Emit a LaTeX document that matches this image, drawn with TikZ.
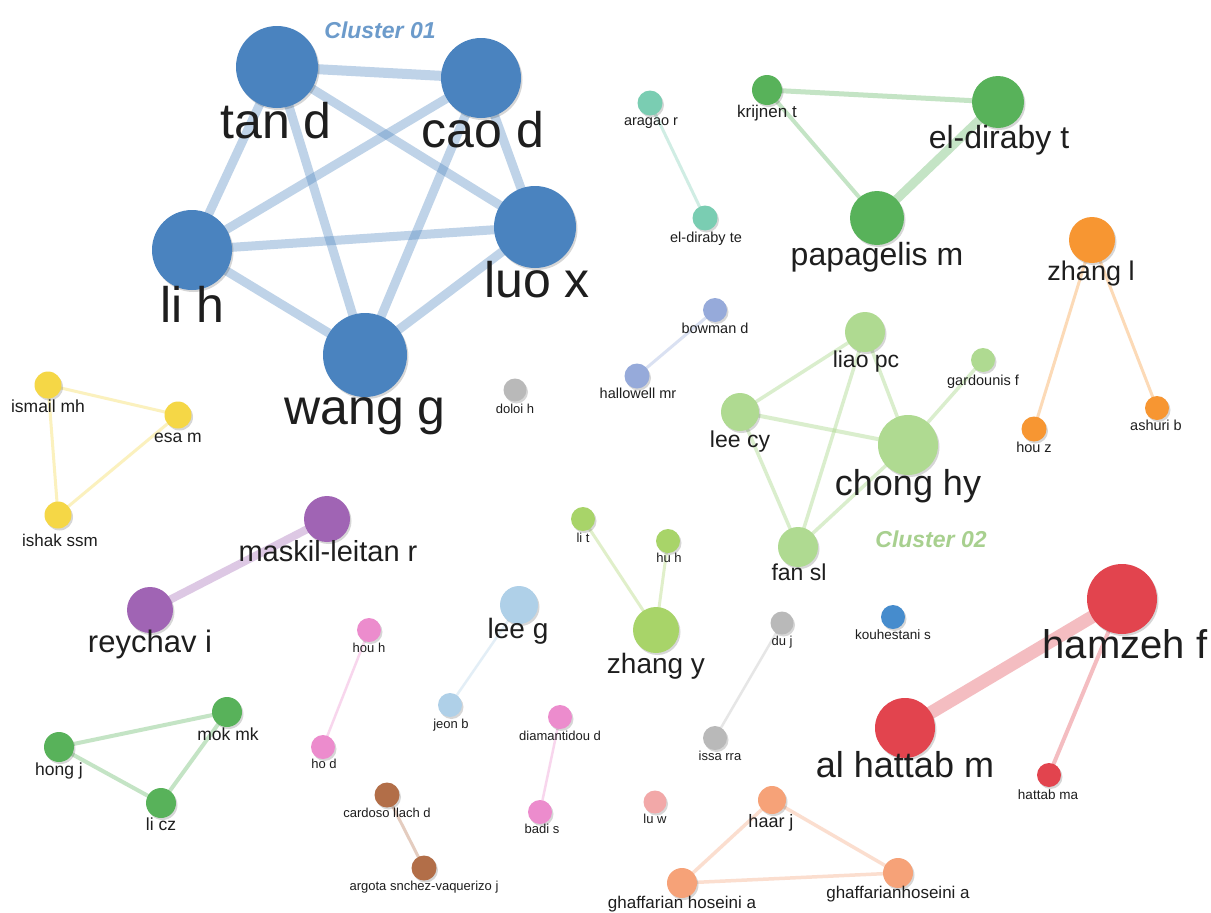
\documentclass[tikz,border=0pt]{standalone}
\usepackage{fontspec}
\setmainfont{Liberation Sans}
\usetikzlibrary{shadows}
\newcommand\fsz[1]{\fontsize{#1}{#1}\selectfont}
\definecolor{txt}{RGB}{30,30,30}
\definecolor{blueN}{RGB}{74,131,191}
\definecolor{greenN}{RGB}{88,178,90}
\definecolor{tealN}{RGB}{122,205,178}
\definecolor{orangeN}{RGB}{247,150,50}
\definecolor{lavN}{RGB}{150,170,218}
\definecolor{lgreenN}{RGB}{175,218,145}
\definecolor{ygreenN}{RGB}{168,212,105}
\definecolor{grayN}{RGB}{185,185,185}
\definecolor{yellowN}{RGB}{245,215,70}
\definecolor{purpleN}{RGB}{160,100,180}
\definecolor{lblueN}{RGB}{175,208,232}
\definecolor{pinkN}{RGB}{236,140,205}
\definecolor{brownN}{RGB}{178,110,72}
\definecolor{redN}{RGB}{226,68,78}
\definecolor{roseN}{RGB}{242,168,168}
\definecolor{salmN}{RGB}{246,162,120}
\definecolor{kblueN}{RGB}{70,140,205}
\definecolor{cl1}{RGB}{108,155,203}
\definecolor{cl2}{RGB}{168,208,143}
\pgfdeclarelayer{bg}
\pgfdeclarelayer{edges}
\pgfsetlayers{bg,edges,main}
\tikzset{
  nd/.style n args={2}{circle, inner sep=0pt, fill=#1, minimum size=#2,
    drop shadow={shadow xshift=1.5pt, shadow yshift=-2pt, opacity=0.16, fill=black}},
  lbl/.style={anchor=base, inner sep=0pt, text=txt},
  edge/.style n args={2}{draw=#1, draw opacity=0.35, line width=#2, line cap=round},
  cluster/.style={anchor=base, inner sep=0pt, font=\fsz{23}\bfseries\itshape},
}
\begin{document}
\begin{tikzpicture}[x=1pt,y=-1pt]
\begin{pgfonlayer}{bg}
\fill[white] (0,0) rectangle (1211,913);
\end{pgfonlayer}
\useasboundingbox (0,0) rectangle (1211,913);

% ---- Cluster 01 (blue)
\node[nd={blueN}{82pt}] (tand) at (277,67) {};
\node[nd={blueN}{80pt}] (caod) at (481,78) {};
\node[nd={blueN}{82pt}] (luox) at (535,227) {};
\node[nd={blueN}{80pt}] (lih) at (192,250) {};
\node[nd={blueN}{84pt}] (wangg) at (365,355) {};
\node[lbl, font=\fsz{50}] (tandl) at (276,138) {tan d};
\node[lbl, font=\fsz{50}] (caodl) at (483,147) {cao d};
\node[lbl, font=\fsz{50}] (luoxl) at (537,297) {luo x};
\node[lbl, font=\fsz{50}] (lihl) at (192,322) {li h};
\node[lbl, font=\fsz{50}] (wanggl) at (365,424) {wang g};
\node[cluster, text=cl1] (c1) at (380,38) {Cluster 01};

% ---- green top
\node[nd={greenN}{30pt}] (krijnen) at (767,90) {};
\node[nd={greenN}{52pt}] (eldirabyt) at (998,102) {};
\node[nd={greenN}{54pt}] (papagelis) at (877,218) {};
\node[lbl, font=\fsz{17}] (krijnenl) at (767,117) {krijnen t};
\node[lbl, font=\fsz{32}] (eldirabytl) at (999,148) {el-diraby t};
\node[lbl, font=\fsz{32}] (papagelisl) at (877,265) {papagelis m};

% ---- teal
\node[nd={tealN}{25pt}] (aragao) at (650,103) {};
\node[nd={tealN}{25pt}] (eldirabyte) at (705,218) {};
\node[lbl, font=\fsz{14.5}] (aragaol) at (651,125) {aragao r};
\node[lbl, font=\fsz{14.5}] (eldirabytel) at (706,242) {el-diraby te};

% ---- orange
\node[nd={orangeN}{46pt}] (zhangl) at (1092,240) {};
\node[nd={orangeN}{25pt}] (houz) at (1034,429) {};
\node[nd={orangeN}{24pt}] (ashuri) at (1157,408) {};
\node[lbl, font=\fsz{27}] (zhangll) at (1091,280) {zhang l};
\node[lbl, font=\fsz{14.5}] (houzl) at (1034,452) {hou z};
\node[lbl, font=\fsz{14.5}] (ashuril) at (1156,430) {ashuri b};

% ---- lavender
\node[nd={lavN}{24pt}] (bowman) at (715,310) {};
\node[nd={lavN}{25pt}] (hallowell) at (637,376) {};
\node[lbl, font=\fsz{14.5}] (bowmanl) at (715,333) {bowman d};
\node[lbl, font=\fsz{14.5}] (hallowelll) at (638,398) {hallowell mr};

% ---- Cluster 02 (light green)
\node[nd={lgreenN}{40pt}] (liaopc) at (865,332) {};
\node[nd={lgreenN}{24pt}] (gardounis) at (983,360) {};
\node[nd={lgreenN}{38pt}] (leecy) at (740,412) {};
\node[nd={lgreenN}{60pt}] (chonghy) at (908,445) {};
\node[nd={lgreenN}{40pt}] (fansl) at (798,547) {};
\node[lbl, font=\fsz{23}] (liaopcl) at (866,367) {liao pc};
\node[lbl, font=\fsz{14.5}] (gardounisl) at (983,385) {gardounis f};
\node[lbl, font=\fsz{23}] (leecyl) at (740,447) {lee cy};
\node[lbl, font=\fsz{36}] (chonghyl) at (908,495) {chong hy};
\node[lbl, font=\fsz{23}] (fansll) at (799,580) {fan sl};
\node[cluster, text=cl2] (c2) at (931,547) {Cluster 02};

% ---- gray doloi
\node[nd={grayN}{23pt}] (doloi) at (515,390) {};
\node[lbl, font=\fsz{13}] (doloil) at (515,413) {doloi h};

% ---- yellow
\node[nd={yellowN}{27pt}] (ismail) at (48,385) {};
\node[nd={yellowN}{27pt}] (esam) at (178,415) {};
\node[nd={yellowN}{27pt}] (ishak) at (58,515) {};
\node[lbl, font=\fsz{17.5}] (ismaill) at (48,412) {ismail mh};
\node[lbl, font=\fsz{17.5}] (esaml) at (178,442) {esa m};
\node[lbl, font=\fsz{17}] (ishakl) at (60,546) {ishak ssm};

% ---- purple
\node[nd={purpleN}{46pt}] (maskil) at (327,519) {};
\node[nd={purpleN}{46pt}] (reychav) at (150,610) {};
\node[lbl, font=\fsz{29}] (maskill) at (328,561) {maskil-leitan r};
\node[lbl, font=\fsz{31}] (reychavl) at (150,652) {reychav i};

% ---- yellow-green
\node[nd={ygreenN}{24pt}] (lit) at (583,519) {};
\node[nd={ygreenN}{24pt}] (huh) at (668,541) {};
\node[nd={ygreenN}{46pt}] (zhangy) at (656,630) {};
\node[lbl, font=\fsz{13}] (litl) at (583,542) {li t};
\node[lbl, font=\fsz{13}] (huhl) at (669,562) {hu h};
\node[lbl, font=\fsz{28}] (zhangyl) at (656,673) {zhang y};

% ---- light blue
\node[nd={lblueN}{38pt}] (leeg) at (519,605) {};
\node[nd={lblueN}{24pt}] (jeonb) at (450,705) {};
\node[lbl, font=\fsz{28}] (leegl) at (518,638) {lee g};
\node[lbl, font=\fsz{13}] (jeonbl) at (451,728) {jeon b};

% ---- pink
\node[nd={pinkN}{24pt}] (houh) at (369,630) {};
\node[nd={pinkN}{24pt}] (hod) at (323,747) {};
\node[nd={pinkN}{24pt}] (diam) at (560,717) {};
\node[nd={pinkN}{24pt}] (badi) at (540,812) {};
\node[lbl, font=\fsz{13}] (houhl) at (369,652) {hou h};
\node[lbl, font=\fsz{13}] (hodl) at (324,768) {ho d};
\node[lbl, font=\fsz{13}] (diaml) at (560,740) {diamantidou d};
\node[lbl, font=\fsz{13}] (badil) at (542,833) {badi s};

% ---- brown
\node[nd={brownN}{25pt}] (cardoso) at (387,795) {};
\node[nd={brownN}{25pt}] (argota) at (424,868) {};
\node[lbl, font=\fsz{13}] (cardosol) at (387,817) {cardoso llach d};
\node[lbl, font=\fsz{13}] (argotal) at (424,890) {argota snchez-vaquerizo j};

% ---- gray du/issa
\node[nd={grayN}{23pt}] (duj) at (782,623) {};
\node[nd={grayN}{24pt}] (issa) at (715,738) {};
\node[lbl, font=\fsz{13}] (dujl) at (782,645) {du j};
\node[lbl, font=\fsz{13}] (issal) at (720,760) {issa rra};

% ---- kouhestani
\node[nd={kblueN}{24pt}] (kouh) at (893,617) {};
\node[lbl, font=\fsz{13.5}] (kouhl) at (893,639) {kouhestani s};

% ---- red
\node[nd={redN}{70pt}] (hamzeh) at (1122,599) {};
\node[nd={redN}{60pt}] (alhattab) at (905,728) {};
\node[nd={redN}{24pt}] (hattabma) at (1049,775) {};
\node[lbl, font=\fsz{40}] (hamzehl) at (1125,658) {hamzeh f};
\node[lbl, font=\fsz{36}] (alhattabl) at (905,777) {al hattab m};
\node[lbl, font=\fsz{13.5}] (hattabmal) at (1048,799) {hattab ma};

% ---- rose lu w
\node[nd={roseN}{23pt}] (luw) at (655,802) {};
\node[lbl, font=\fsz{13}] (luwl) at (655,823) {lu w};

% ---- salmon triangle
\node[nd={salmN}{28pt}] (haar) at (772,800) {};
\node[nd={salmN}{30pt}] (ghaf1) at (682,883) {};
\node[nd={salmN}{30pt}] (ghaf2) at (898,873) {};
\node[lbl, font=\fsz{18}] (haarl) at (771,827) {haar j};
\node[lbl, font=\fsz{17}] (ghaf1l) at (682,908) {ghaffarian hoseini a};
\node[lbl, font=\fsz{17}] (ghaf2l) at (898,898) {ghaffarianhoseini a};

% ---- green bottom
\node[nd={greenN}{30pt}] (hongj) at (59,747) {};
\node[nd={greenN}{30pt}] (mokmk) at (227,712) {};
\node[nd={greenN}{30pt}] (licz) at (161,803) {};
\node[lbl, font=\fsz{17.5}] (hongjl) at (59,775) {hong j};
\node[lbl, font=\fsz{17.5}] (mokmkl) at (228,740) {mok mk};
\node[lbl, font=\fsz{17.5}] (liczl) at (161,830) {li cz};

% ==== edges
\begin{pgfonlayer}{edges}
\draw[edge={blueN}{10pt}] (tand.center) -- (caod.center);
\draw[edge={blueN}{9pt}] (tand.center) -- (luox.center);
\draw[edge={blueN}{9pt}] (tand.center) -- (lih.center);
\draw[edge={blueN}{9pt}] (tand.center) -- (wangg.center);
\draw[edge={blueN}{9pt}] (caod.center) -- (lih.center);
\draw[edge={blueN}{9pt}] (caod.center) -- (luox.center);
\draw[edge={blueN}{9pt}] (caod.center) -- (wangg.center);
\draw[edge={blueN}{9pt}] (lih.center) -- (luox.center);
\draw[edge={blueN}{9pt}] (lih.center) -- (wangg.center);
\draw[edge={blueN}{9pt}] (luox.center) -- (wangg.center);

\draw[edge={greenN}{5pt}] (krijnen.center) -- (eldirabyt.center);
\draw[edge={greenN}{4pt}] (krijnen.center) -- (papagelis.center);
\draw[edge={greenN}{9pt}] (papagelis.center) -- (eldirabyt.center);

\draw[edge={tealN}{3pt}] (aragao.center) -- (eldirabyte.center);

\draw[edge={orangeN}{3pt}] (zhangl.center) -- (houz.center);
\draw[edge={orangeN}{3pt}] (zhangl.center) -- (ashuri.center);

\draw[edge={lavN}{3pt}] (bowman.center) -- (hallowell.center);

\draw[edge={lgreenN}{3.5pt}, draw opacity=0.45] (liaopc.center) -- (leecy.center);
\draw[edge={lgreenN}{3.5pt}, draw opacity=0.45] (liaopc.center) -- (chonghy.center);
\draw[edge={lgreenN}{3.5pt}, draw opacity=0.45] (liaopc.center) -- (fansl.center);
\draw[edge={lgreenN}{4pt}, draw opacity=0.45] (leecy.center) -- (chonghy.center);
\draw[edge={lgreenN}{3.5pt}, draw opacity=0.45] (leecy.center) -- (fansl.center);
\draw[edge={lgreenN}{3.5pt}, draw opacity=0.45] (chonghy.center) -- (fansl.center);
\draw[edge={lgreenN}{3.5pt}, draw opacity=0.45] (chonghy.center) -- (gardounis.center);

\draw[edge={yellowN}{3pt}] (ismail.center) -- (esam.center);
\draw[edge={yellowN}{3pt}] (ismail.center) -- (ishak.center);
\draw[edge={yellowN}{3pt}] (esam.center) -- (ishak.center);

\draw[edge={purpleN}{8pt}] (maskil.center) -- (reychav.center);

\draw[edge={ygreenN}{3pt}] (lit.center) -- (zhangy.center);
\draw[edge={ygreenN}{3pt}] (huh.center) -- (zhangy.center);

\draw[edge={lblueN}{2.5pt}] (leeg.center) -- (jeonb.center);

\draw[edge={pinkN}{2.5pt}] (houh.center) -- (hod.center);
\draw[edge={pinkN}{2.5pt}] (diam.center) -- (badi.center);

\draw[edge={brownN}{3pt}] (cardoso.center) -- (argota.center);

\draw[edge={grayN}{2.5pt}] (duj.center) -- (issa.center);

\draw[edge={redN}{13pt}] (hamzeh.center) -- (alhattab.center);
\draw[edge={redN}{4pt}] (hamzeh.center) -- (hattabma.center);

\draw[edge={salmN}{3.5pt}] (haar.center) -- (ghaf1.center);
\draw[edge={salmN}{3.5pt}] (haar.center) -- (ghaf2.center);
\draw[edge={salmN}{3.5pt}] (ghaf1.center) -- (ghaf2.center);

\draw[edge={greenN}{4pt}] (hongj.center) -- (mokmk.center);
\draw[edge={greenN}{4pt}] (hongj.center) -- (licz.center);
\draw[edge={greenN}{4pt}] (mokmk.center) -- (licz.center);
\end{pgfonlayer}
\end{tikzpicture}
\end{document}
